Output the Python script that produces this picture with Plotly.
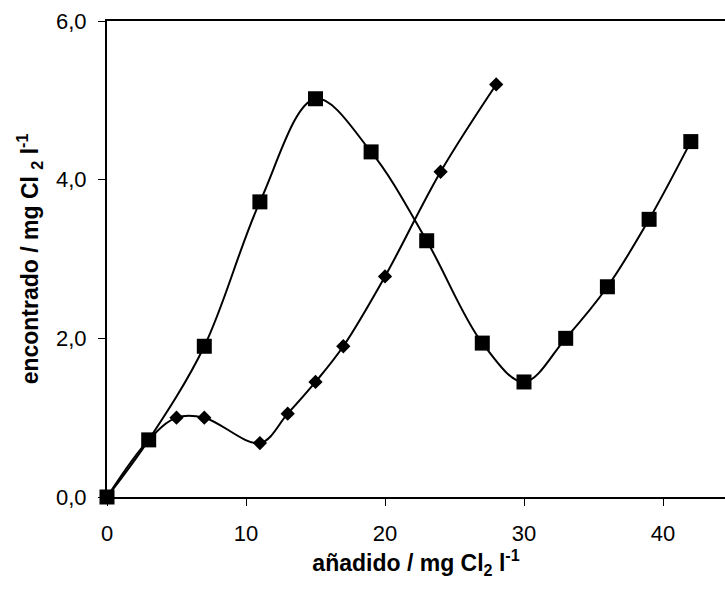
import plotly.graph_objects as go

# Series with squares
sq_x = [0, 3, 7, 11, 15, 19, 23, 27, 30, 33, 36, 39, 42]
sq_y = [0.0, 0.72, 1.90, 3.72, 5.02, 4.35, 3.23, 1.94, 1.45, 2.00, 2.65, 3.50, 4.48]

# Series with diamonds
dm_x = [0, 3, 5, 7, 11, 13, 15, 17, 20, 24, 28]
dm_y = [0.0, 0.72, 1.00, 1.00, 0.68, 1.05, 1.45, 1.90, 2.78, 4.10, 5.20]

x_ticks = [0, 10, 20, 30, 40]
y_ticks = [0, 2, 4, 6]

fig = go.Figure()
fig.add_trace(go.Scatter(
    x=dm_x, y=dm_y, mode="lines+markers",
    line=dict(color="black", width=2, shape="spline", smoothing=1),
    marker=dict(symbol="diamond", size=11, color="black"),
    showlegend=False, cliponaxis=False))
fig.add_trace(go.Scatter(
    x=sq_x, y=sq_y, mode="lines+markers",
    line=dict(color="black", width=2, shape="spline", smoothing=1),
    marker=dict(symbol="square", size=15, color="black"),
    showlegend=False, cliponaxis=False))

FAM = "Liberation Sans"
tickf = dict(family=FAM, size=22, color="black")
titlef = dict(family=FAM, size=23, color="black")
fig.update_layout(
    width=725, height=590,
    margin=dict(l=107, r=0, t=21, b=93),
    plot_bgcolor="white", paper_bgcolor="white",
    separators=",.",
    font=dict(family=FAM, size=22, color="black"),
    xaxis=dict(
        range=[0, 44.46], tickvals=x_ticks, tickformat="d",
        tickfont=tickf, ticklabelstandoff=9,
        showline=True, linecolor="black", linewidth=2, mirror=True,
        ticks="outside", ticklen=7, tickwidth=1, tickcolor="black",
        showgrid=False, zeroline=False,
        title=dict(text="<b>añadido / mg Cl<sub>2</sub> l<sup>-1</sup></b>",
                   font=titlef, standoff=5),
    ),
    yaxis=dict(
        range=[0, 6], tickvals=y_ticks, tickformat=".1f",
        tickfont=tickf, ticklabelstandoff=7,
        showline=True, linecolor="black", linewidth=2,
        ticks="outside", ticklen=7, tickwidth=1, tickcolor="black",
        showgrid=False, zeroline=False,
        title=dict(text="<b>encontrado / mg Cl <sub>2</sub> l<sup>-1</sup></b>",
                   font=titlef, standoff=11),
    ),
)

fig.write_html("out.html")
